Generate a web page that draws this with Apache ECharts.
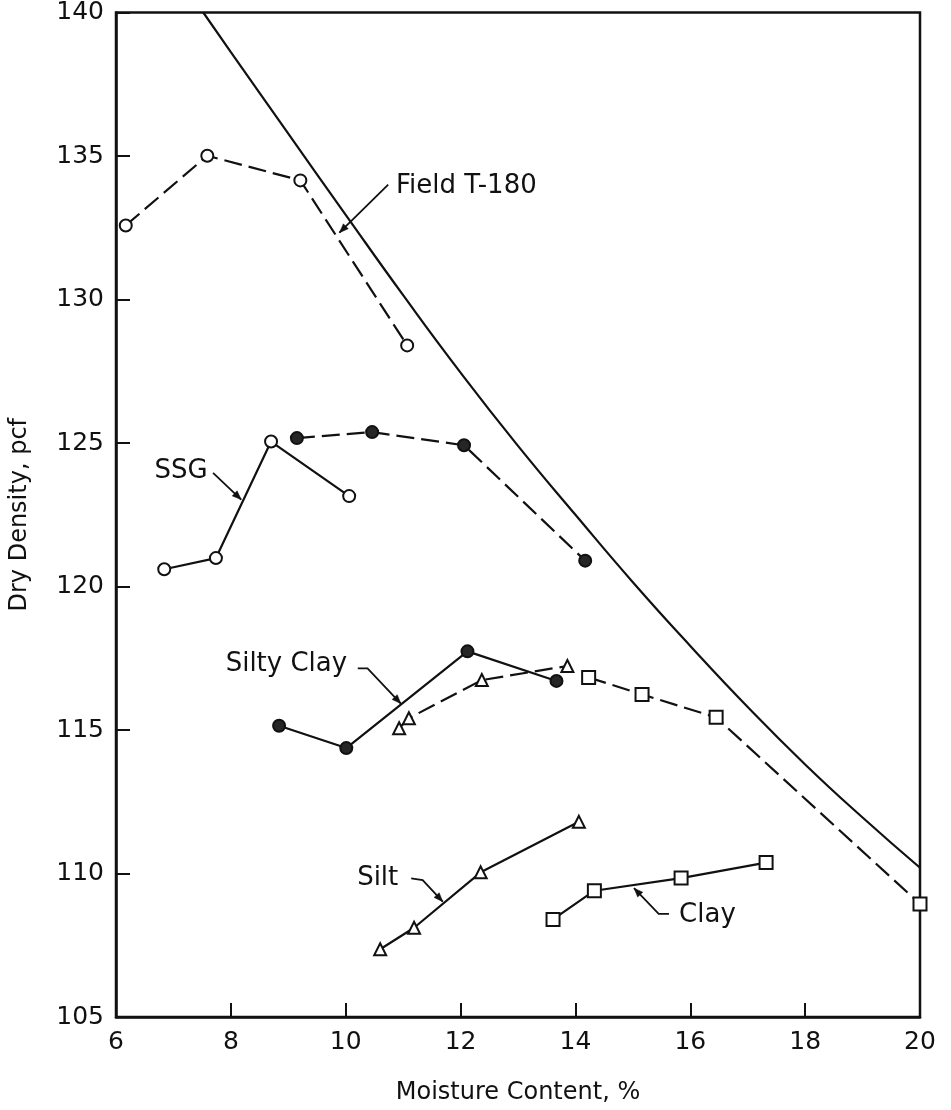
<!DOCTYPE html>
<html>
<head>
<meta charset="utf-8">
<script src="https://cdn.jsdelivr.net/npm/echarts@6/dist/echarts.min.js"></script>
<style>
html,body{margin:0;padding:0;background:#fff;}
#chart{width:951px;height:1110px;}
</style>
</head>
<body>
<div id="chart"></div>
<script>
// Axis ranges / ticks
const xTicks = [6, 8, 10, 12, 14, 16, 18, 20];
const yTicks = [105, 110, 115, 120, 125, 130, 135, 140];

// Field T-180 curve (solid, no markers)
const t180 = [[7.52,140],[8,138.62],[9,135.78],[10,132.95],[11,130.15],[12,127.45],[13,124.9],[14,122.5],[15,120.15],[16,117.93],[17,115.8],[18,113.8],[19,111.95],[20,110.2]];
// Open circles, dashed (top)
const openCircDashed = [[6.17,132.58],[7.59,135.01],[9.21,134.15],[11.07,128.4]];
// SSG open circles, solid
const ssg = [[6.84,120.6],[7.74,120.99],[8.70,125.05],[10.06,123.15]];
// Filled circles, dashed
const filledDashed = [[9.15,125.17],[10.46,125.38],[12.06,124.92],[14.17,120.9]];
// Silty Clay filled circles, solid
const siltyClay = [[8.84,115.15],[10.01,114.37],[12.12,117.74],[13.67,116.71]];
// Triangles, dashed
const triDashed = [[10.93,115.06],[11.10,115.41],[12.37,116.74],[13.86,117.23]];
// Squares, dashed
const sqDashed = [[14.23,116.83],[15.16,116.24],[16.45,115.44],[20.0,108.94]];
// Silt triangles, solid
const silt = [[10.60,107.36],[11.19,108.11],[12.35,110.04],[14.06,111.8]];
// Clay squares, solid
const clay = [[13.61,108.4],[14.33,109.4],[15.84,109.84],[17.32,110.38]];

// Annotation labels (data units)
const labelNames = ['Field T-180','SSG','Silty Clay','Silt','Clay'];
const labelPos = [[10.84,133.93],[7.63,124.0],[10.06,117.28],[10.95,109.82],[15.77,108.53]];
const labelSide = ['right','left','left','left','right'];
// Leader lines (data units)
const leaders = [
  [[10.74,134.0],[9.89,132.33]],
  [[7.69,123.96],[8.18,123.03]],
  [[10.21,117.15],[10.38,117.15],[10.96,115.92]],
  [[11.14,109.83],[11.34,109.77],[11.69,109.02]],
  [[15.63,108.59],[15.45,108.59],[15.02,109.49]]
];

const INK = '#111';
const dash = [18, 7];

function lineSeries(name, data, dashed, symbol, filled, opts) {
  return Object.assign({
    name: name,
    type: 'line',
    data: data,
    symbol: symbol,
    symbolSize: 12,
    showSymbol: symbol !== 'none',
    lineStyle: { color: INK, width: 2.2, type: dashed ? dash : 'solid' },
    itemStyle: { color: filled ? '#262626' : '#fff', borderColor: INK, borderWidth: 2 },
    emphasis: { disabled: true },
    animation: false,
    z: 3
  }, opts || {});
}

const chart = echarts.init(document.getElementById('chart'), null, { renderer: 'canvas' });

const option = {
  backgroundColor: '#fff',
  animation: false,
  grid: { left: 114.5, right: 31, top: 11.5, bottom: 87, show: true, borderColor: INK, borderWidth: 2.5, backgroundColor: 'transparent' },
  xAxis: {
    type: 'value', min: xTicks[0], max: xTicks[xTicks.length-1], interval: 2,
    name: 'Moisture Content, %', nameLocation: 'middle', nameGap: 64,
    nameTextStyle: { fontFamily: 'DejaVu Sans', fontSize: 24, color: INK },
    axisLine: { show: true, lineStyle: { color: INK, width: 2.5 } },
    axisTick: { show: true, inside: true, length: 14, lineStyle: { color: INK, width: 2 } },
    axisLabel: { fontFamily: 'DejaVu Sans', fontSize: 25, color: INK, margin: 13 },
    splitLine: { show: false }
  },
  yAxis: {
    type: 'value', min: yTicks[0], max: yTicks[yTicks.length-1], interval: 5,
    name: 'Dry Density, pcf', nameLocation: 'middle', nameGap: 84,
    nameTextStyle: { fontFamily: 'DejaVu Sans', fontSize: 24, color: INK },
    axisLine: { show: true, lineStyle: { color: INK, width: 2.5 } },
    axisTick: { show: true, inside: true, length: 14, lineStyle: { color: INK, width: 2 } },
    axisLabel: { fontFamily: 'DejaVu Sans', fontSize: 25, color: INK, margin: 12 },
    splitLine: { show: false }
  },
  series: [
    lineSeries('Field T-180', t180, false, 'none', false, { smooth: 0.5, z: 2 }),
    lineSeries('Field open', openCircDashed, true, 'circle', false),
    lineSeries('SSG', ssg, false, 'circle', false),
    lineSeries('Filled dashed', filledDashed, true, 'circle', true),
    lineSeries('Silty Clay', siltyClay, false, 'circle', true),
    lineSeries('Tri dashed', triDashed, true, 'triangle', false),
    lineSeries('Sq dashed', sqDashed, true, 'rect', false, { symbolSize: 13 }),
    lineSeries('Silt', silt, false, 'triangle', false),
    lineSeries('Clay', clay, false, 'rect', false, { symbolSize: 13 }),
    {
      // leader lines with small arrowheads
      type: 'custom',
      coordinateSystem: 'cartesian2d',
      silent: true,
      animation: false,
      data: leaders.map(function (c, i) { return [c[0][0], c[0][1], i]; }),
      renderItem: function (params, api) {
        const i = api.value(2);
        const pts = leaders[i].map(function (p) { return api.coord(p); });
        const a = pts[pts.length - 2], b = pts[pts.length - 1];
        const ang = Math.atan2(b[1] - a[1], b[0] - a[0]);
        const L = 9, W = 3.5;
        const bx = b[0] - L * Math.cos(ang), by = b[1] - L * Math.sin(ang);
        const head = [
          b,
          [bx + W * Math.sin(ang), by - W * Math.cos(ang)],
          [bx - W * Math.sin(ang), by + W * Math.cos(ang)]
        ];
        return {
          type: 'group',
          children: [
            { type: 'polyline', shape: { points: pts }, style: { stroke: INK, lineWidth: 1.8, fill: null } },
            { type: 'polygon', shape: { points: head }, style: { fill: INK, stroke: INK, lineWidth: 0.5 } }
          ]
        };
      },
      z: 4
    },
    {
      type: 'custom',
      coordinateSystem: 'cartesian2d',
      silent: true,
      animation: false,
      data: labelPos.map(function (p, i) { return [p[0], p[1], i]; }),
      renderItem: function (params, api) {
        const i = api.value(2);
        const pt = api.coord([api.value(0), api.value(1)]);
        const right = labelSide[i] === 'right';
        return {
          type: 'text',
          x: pt[0] + (right ? 2 : -2),
          y: pt[1],
          style: {
            text: labelNames[i],
            fill: INK,
            font: '26px "DejaVu Sans"',
            align: right ? 'left' : 'right',
            verticalAlign: 'middle'
          }
        };
      },
      z: 5
    }
  ]
};
chart.setOption(option);
</script>
</body>
</html>
